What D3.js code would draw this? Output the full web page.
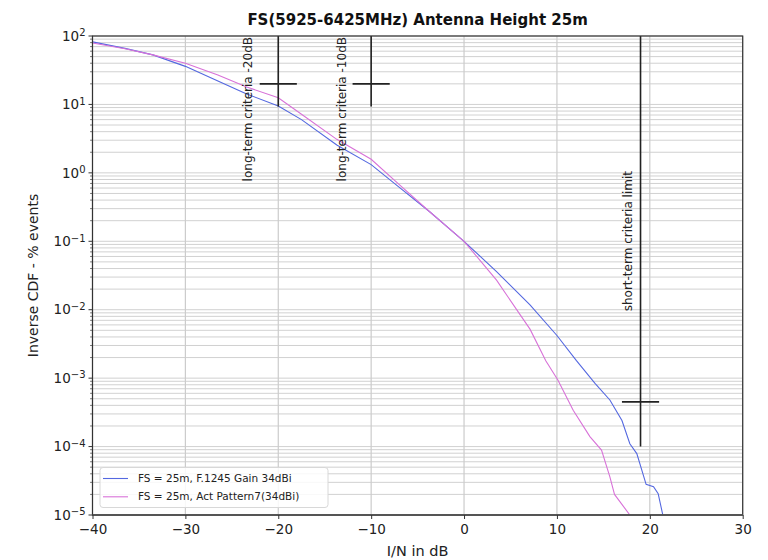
<!DOCTYPE html>
<html><head><meta charset="utf-8">
<script src="https://cdn.jsdelivr.net/npm/d3@7"></script>
<style>body{margin:0;background:#fff}svg{display:block;font-family:"DejaVu Sans",sans-serif}</style>
</head><body><svg id="c" width="768" height="560"></svg>
<script>
const title = "FS(5925-6425MHz) Antenna Height 25m";
const xLabel = "I/N in dB";
const yLabel = "Inverse CDF - % events";
const xTicks = [-40, -30, -20, -10, 0, 10, 20, 30];
const yTickExps = [2, 1, 0, -1, -2, -3, -4, -5];
const seriesNames = ["FS = 25m, F.1245 Gain 34dBi", "FS = 25m, Act Pattern7(34dBi)"];
const seriesColors = ["#5468e0", "#d872d8"];
const blueDb  = [-40, -36.5, -33.5, -30, -26.5, -23.4, -20, -17.5, -13.7, -10, -7, -3.7, 0, 3.5, 7.1, 10, 12.1, 14.1, 15.7, 17, 17.85, 18.6, 19.6, 20.4, 20.9, 21.4];
const blueVal = [82, 66, 53, 36, 22, 14.2, 9.5, 6.0, 2.55, 1.32, 0.62, 0.27, 0.1, 0.036, 0.0118, 0.0042, 0.0018, 8.4e-4, 4.8e-4, 2.4e-4, 1.1e-4, 7.9e-5, 2.8e-5, 2.6e-5, 2.05e-5, 1.0e-5];
const magDb   = [-40, -36.5, -33.5, -30, -26.5, -23.4, -20, -17.5, -13.7, -10, -7, -3.7, 0, 3.5, 7.1, 8.8, 10.1, 11.75, 13.55, 14.8, 15.7, 16.2, 17.85];
const magVal  = [79, 65, 53, 40, 27, 18, 12.5, 7.2, 3.09, 1.58, 0.68, 0.27, 0.1, 0.027, 0.0052, 0.0018, 9.4e-4, 3.4e-4, 1.4e-4, 8.9e-5, 3.6e-5, 2.0e-5, 1.0e-5];
// criteria markers
const critLabels = ["long-term criteria -20dB", "long-term criteria -10dB", "short-term criteria limit"];
const critX    = [-20, -10, 19];
const critYLo  = [9.3, 9.3, 1e-4];
const critYHi  = [100, 100, 100];
const critBarY = [20, 20, 4.5e-4];
const critBarHalf = [2, 2, 2];
const critTextX = [-23.3, -13.2, 17.6];
const critTextTopY = [100, 100, 1.1];

const W = 768, H = 560;
const m = {l: 92.5, r: 25.3, t: 36, b: 45};
const svg = d3.select("#c");
const x = d3.scaleLinear().domain([-40, 30]).range([m.l, W - m.r]);
const y = d3.scaleLog().domain([1e-5, 100]).range([H - m.b, m.t]);

svg.append("defs").append("clipPath").attr("id", "clip")
  .append("rect").attr("x", m.l).attr("y", m.t).attr("width", W - m.l - m.r).attr("height", H - m.t - m.b);

// grid
const minorVals = [];
for (let e = -5; e < 2; e++) for (let k = 1; k <= 9; k++) minorVals.push(k * Math.pow(10, e));
minorVals.push(100);
const g = svg.append("g");
g.selectAll("line.hg").data(minorVals).join("line")
  .attr("x1", m.l).attr("x2", W - m.r)
  .attr("y1", d => y(d)).attr("y2", d => y(d))
  .attr("stroke", "#cccccc").attr("stroke-width", 0.9);
g.selectAll("line.vg").data(xTicks).join("line")
  .attr("x1", d => x(d)).attr("x2", d => x(d))
  .attr("y1", m.t).attr("y2", H - m.b)
  .attr("stroke", "#cccccc").attr("stroke-width", 1.2);

// curves
const line = d3.line().x(d => x(d[0])).y(d => y(d[1]));
const series = [d3.zip(blueDb, blueVal), d3.zip(magDb, magVal)];
svg.append("g").attr("clip-path", "url(#clip)").selectAll("path").data(series).join("path")
  .attr("d", line).attr("fill", "none")
  .attr("stroke", (d, i) => seriesColors[i]).attr("stroke-width", 1.1);

// criteria markers
const cg = svg.append("g");
critX.forEach((cx, i) => {
  cg.append("line").attr("x1", x(cx)).attr("x2", x(cx)).attr("y1", y(critYLo[i])).attr("y2", y(critYHi[i]))
    .attr("stroke", "#222").attr("stroke-width", 1.6);
  cg.append("line").attr("x1", x(cx - critBarHalf[i])).attr("x2", x(cx + critBarHalf[i]))
    .attr("y1", y(critBarY[i])).attr("y2", y(critBarY[i]))
    .attr("stroke", "#222").attr("stroke-width", 1.6);
  const tx = x(critTextX[i]), ty = y(critTextTopY[i]) + 1;
  cg.append("text").attr("transform", `translate(${tx},${ty}) rotate(-90)`)
    .attr("text-anchor", "end").attr("dy", "0.35em")
    .attr("font-size", 12).attr("fill", "#222").text(critLabels[i]);
});

// axes frame
svg.append("rect").attr("x", m.l).attr("y", m.t).attr("width", W - m.l - m.r).attr("height", H - m.t - m.b)
  .attr("fill", "none").attr("stroke", "#333").attr("stroke-width", 1.2);
svg.append("line").attr("x1", m.l).attr("x2", W - m.r).attr("y1", H - m.b).attr("y2", H - m.b)
  .attr("stroke", "#555").attr("stroke-width", 2);

// x axis
const xa = svg.append("g").attr("transform", `translate(0,${H - m.b})`)
  .call(d3.axisBottom(x).tickValues(xTicks).tickSize(4).tickPadding(5).tickFormat(d => d < 0 ? "\u2212" + Math.abs(d) : d));
xa.select(".domain").remove();
xa.selectAll("text").attr("font-size", 13.5).attr("fill", "#222").attr("font-family", "DejaVu Sans");
xa.selectAll("line").attr("stroke", "#333");

// y axis
const ya = svg.append("g").attr("transform", `translate(${m.l},0)`);
ya.selectAll("line.minor").data(minorVals.filter(v => Math.abs(Math.log10(v) - Math.round(Math.log10(v))) > 1e-6)).join("line")
  .attr("x1", -2.4).attr("x2", 0).attr("y1", d => y(d)).attr("y2", d => y(d)).attr("stroke", "#333").attr("stroke-width", 0.7);
ya.selectAll("line.major").data(yTickExps).join("line")
  .attr("x1", -4).attr("x2", 0).attr("y1", d => y(Math.pow(10, d))).attr("y2", d => y(Math.pow(10, d))).attr("stroke", "#333");
const yt = ya.selectAll("text.yt").data(yTickExps).join("text")
  .attr("x", -7).attr("y", d => y(Math.pow(10, d))).attr("dy", "0.35em")
  .attr("text-anchor", "end").attr("font-size", 13.5).attr("fill", "#222");
yt.append("tspan").text("10");
yt.append("tspan").attr("dy", "-0.45em").attr("font-size", 10).text(d => d < 0 ? "\u2212" + Math.abs(d) : d);

// labels
svg.append("text").attr("x", (m.l + W - m.r) / 2).attr("y", 25).attr("text-anchor", "middle")
  .attr("font-size", 15).attr("font-weight", "bold").attr("fill", "#111").text(title);
svg.append("text").attr("x", (m.l + W - m.r) / 2).attr("y", 556).attr("text-anchor", "middle")
  .attr("font-size", 14.5).attr("fill", "#222").text(xLabel);
svg.append("text").attr("transform", `translate(38,${(m.t + H - m.b) / 2}) rotate(-90)`).attr("text-anchor", "middle")
  .attr("font-size", 14).attr("fill", "#222").text(yLabel);

// legend
const lg = svg.append("g");
lg.append("rect").attr("x", 100).attr("y", 467.5).attr("width", 228).attr("height", 40).attr("rx", 3)
  .attr("fill", "#fff").attr("fill-opacity", 0.85).attr("stroke", "#d8d8d8");
seriesNames.forEach((n, i) => {
  const ly = 478.5 + i * 18.3;
  lg.append("line").attr("x1", 103).attr("x2", 128).attr("y1", ly).attr("y2", ly)
    .attr("stroke", seriesColors[i]).attr("stroke-width", 1.1);
  lg.append("text").attr("x", 138).attr("y", ly).attr("dy", "0.35em").attr("font-size", 10.5)
    .attr("fill", "#222").text(n);
});
</script></body></html>
